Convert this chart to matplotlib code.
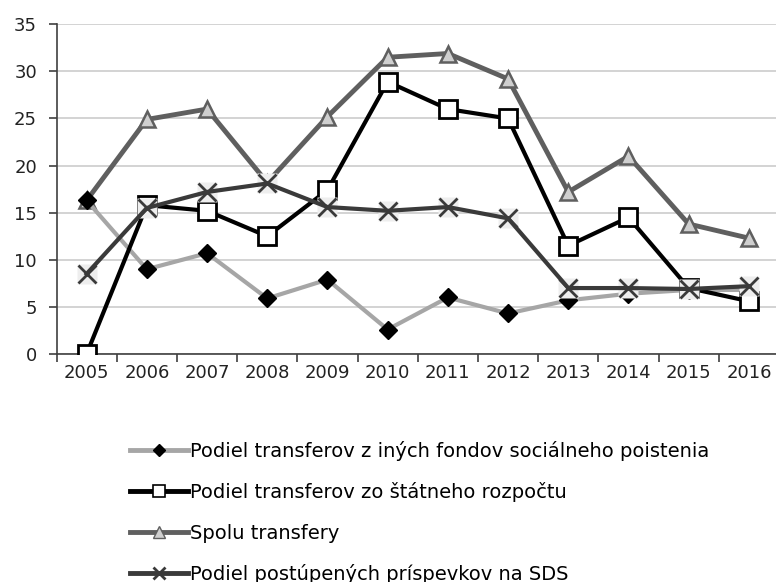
import matplotlib.pyplot as plt
from matplotlib.lines import Line2D

# roky a podiely (%)
roky = ["2005", "2006", "2007", "2008", "2009", "2010",
        "2011", "2012", "2013", "2014", "2015", "2016"]
ine_fondy = [16.3, 9.0, 10.7, 5.9, 7.9, 2.6, 6.0, 4.3, 5.7, 6.4, 6.8, 6.8]
statny_rozpocet = [0.0, 15.8, 15.2, 12.5, 17.4, 28.9, 26.0, 25.0, 11.5, 14.5, 7.0, 5.6]
spolu = [16.3, 24.9, 26.0, 18.2, 25.2, 31.5, 31.9, 29.2, 17.2, 21.0, 13.8, 12.3]
sds = [8.5, 15.5, 17.2, 18.1, 15.6, 15.2, 15.6, 14.4, 7.0, 7.0, 6.9, 7.2]

labels = [
    "Podiel transferov z iných fondov sociálneho poistenia",
    "Podiel transferov zo štátneho rozpočtu",
    "Spolu transfery",
    "Podiel postúpených príspevkov na SDS",
]

fig = plt.figure(figsize=(7.76, 5.82), dpi=100)
W, H = 776, 582
ax = fig.add_axes([56.5 / W, 1 - 354 / H, (779 - 56.5) / W, (354 - 24.3) / H])

x = list(range(len(roky)))

ax.plot(x, ine_fondy, color="#a6a6a6", lw=3, marker="D", ms=9,
        mfc="black", mec="black", zorder=3)
ax.plot(x, statny_rozpocet, color="black", lw=3, marker="s", ms=13,
        mfc="white", mec="black", mew=2, zorder=4)
ax.plot(x, spolu, color="#5f5f5f", lw=3.5, marker="^", ms=12,
        mfc="#cfcfcf", mec="#5f5f5f", mew=1.8, zorder=2)
# svetly stvorec za krizikom
ax.plot(x, sds, ls="none", marker="s", ms=15, mfc="#eeeeee", mec="none", zorder=4.5)
ax.plot(x, sds, color="#3a3a3a", lw=3, marker="x", ms=13, mec="#3a3a3a",
        mew=2, zorder=5)

ax.set_xlim(-0.5, len(roky) - 0.5)
ax.set_ylim(0, 35)
ax.set_yticks(range(0, 36, 5))
ax.set_xticks(x)
ax.set_xticklabels(roky)
ax.set_xticks([i - 0.5 for i in range(len(roky) + 1)], minor=True)
ax.tick_params(axis="x", which="major", length=0, pad=7, labelsize=13)
ax.tick_params(axis="x", which="minor", length=6, width=1.2, color="#404040")
ax.tick_params(axis="y", length=6, width=1.2, color="#404040", labelsize=13, pad=8)
for lab in ax.get_xticklabels() + ax.get_yticklabels():
    lab.set_color("#222222")

ax.grid(axis="y", color="#d0d0d0", lw=1.3)
ax.set_axisbelow(True)
ax.spines["top"].set_visible(False)
ax.spines["right"].set_visible(False)
ax.spines["left"].set_color("#404040")
ax.spines["bottom"].set_color("#404040")
ax.spines["left"].set_linewidth(1.2)
ax.spines["bottom"].set_linewidth(1.2)

handles = [
    Line2D([], [], color="#a6a6a6", lw=3.5, marker="D", ms=6, mfc="black", mec="black"),
    Line2D([], [], color="black", lw=3.5, marker="s", ms=9, mfc="white", mec="black", mew=1.2),
    Line2D([], [], color="#5f5f5f", lw=3.5, marker="^", ms=8, mfc="#cfcfcf", mec="#5f5f5f"),
    Line2D([], [], color="#3a3a3a", lw=3.5, marker="x", ms=8, mec="#3a3a3a", mew=2),
]
fig.legend(handles, labels, loc="upper left", bbox_to_anchor=(122 / W, 1 - 433 / H),
           frameon=False, handlelength=3.0, handletextpad=0.1, labelspacing=1.1,
           prop={"family": "DejaVu Sans", "size": 14}, borderaxespad=0)

fig.savefig("out.png", dpi=100)
